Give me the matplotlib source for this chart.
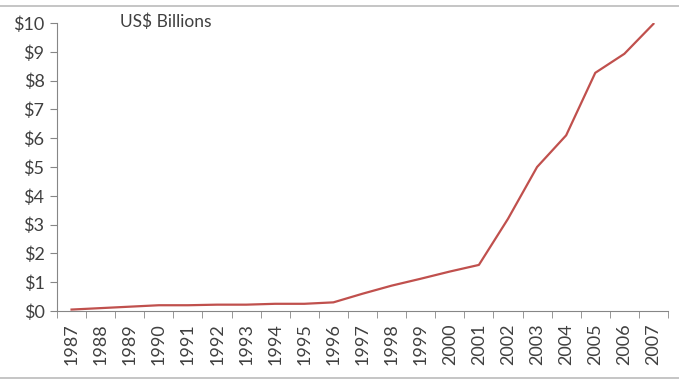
import numpy as np
import matplotlib.pyplot as plt
from matplotlib.lines import Line2D
from matplotlib.ticker import FixedLocator

plt.rcParams['font.family'] = ['Lato', 'DejaVu Sans']

years = [str(y) for y in range(1987, 2008)]
values = [0.05, 0.1, 0.15, 0.2, 0.2, 0.22, 0.22, 0.25, 0.25, 0.3,
          0.6, 0.88, 1.12, 1.37, 1.6, 3.2, 5.0, 6.1, 8.27, 8.93, 9.97]

fig = plt.figure(figsize=(6.79, 3.83), dpi=100)
ax = fig.add_axes([57/679, 72/383, 611/679, 288/383])

x = np.arange(len(years))
ax.plot(x, values, color="#C0504D", lw=1.6)

ax.set_xlim(-0.5, len(years) - 0.5)
ax.set_ylim(0, 10)
ax.set_yticks(range(0, 11))
ax.set_yticklabels(["$%d" % v for v in range(0, 11)])
ax.set_xticks(x)
ax.set_xticklabels(years, rotation=90)
ax.xaxis.set_minor_locator(FixedLocator(np.arange(-0.5, len(years), 1)))

for s in ["top", "right"]:
    ax.spines[s].set_visible(False)
for s in ["left", "bottom"]:
    ax.spines[s].set_color("#868686")
ax.tick_params(axis="y", colors="#868686", labelcolor="#404040", labelsize=13, length=5, pad=4)
ax.tick_params(axis="x", which="major", length=0, labelcolor="#404040", labelsize=13, pad=9)
ax.tick_params(axis="x", which="minor", length=5, color="#868686")

fig.text(120/679, 1 - 22/383, "US$ Billions", fontsize=12.5, color="#404040", va="center", ha="left")

fig.add_artist(Line2D([0, 1], [1 - 6/383, 1 - 6/383], color="#BBBBBB", lw=1.2))
fig.add_artist(Line2D([0, 1], [1 - 378/383, 1 - 378/383], color="#BBBBBB", lw=1.2))

fig.savefig("out.png", dpi=100)
